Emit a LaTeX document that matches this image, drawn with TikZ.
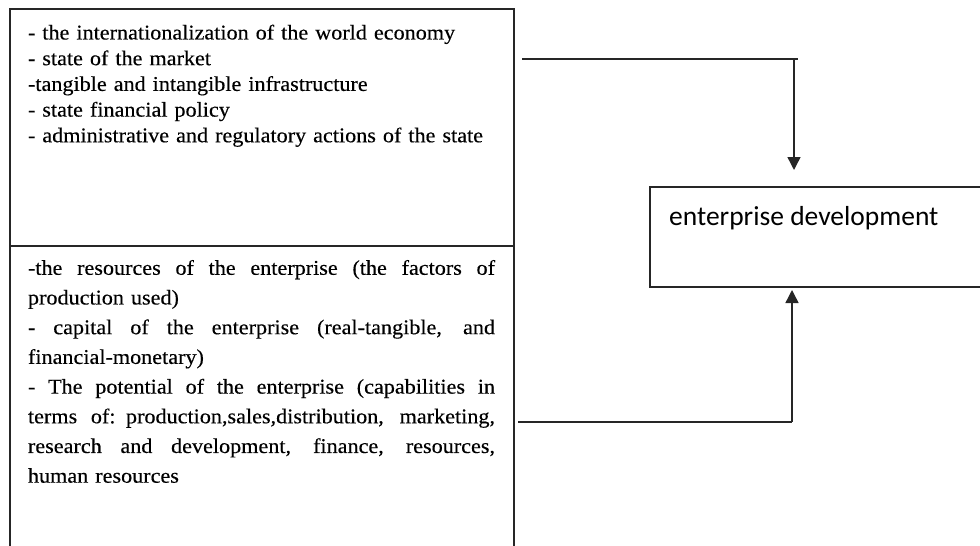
\documentclass[tikz,border=0pt]{standalone}
\usepackage{fontspec}
\usetikzlibrary{arrows.meta}
\newfontfamily\serifcam[FakeStretch=1.055,FakeBold=0.3]{Liberation Serif}
\newfontfamily\sanscal{Carlito}
\newcommand\jline[1]{\makebox[467pt][s]{\spaceskip=0.25em plus 1fil\relax #1}}
\begin{document}
\begin{tikzpicture}[x=1pt,y=-1pt,
  boxline/.style={draw=black!85, line width=1.6pt, inner sep=0pt, outer sep=0pt, anchor=north west},
  conn/.style={draw=black!85, line width=1.4pt},
  tipped/.style={-{Triangle[width=13pt,length=13pt]}},
  txt/.style={anchor=north west, inner sep=0pt, outer sep=0pt, text width=467pt, align=left}]
\useasboundingbox (0,0) rectangle (980,546);
\clip (0,0) rectangle (980,546);
% boxes
\node[boxline, minimum width=504pt, minimum height=237pt] (ext) at (10,9) {};
\node[boxline, minimum width=504pt, minimum height=330pt] (int) at (10,246) {};
\node[boxline, minimum width=360pt, minimum height=100pt] (dev) at (650,187) {};
% texts
\node[txt, font=\serifcam\fontsize{21}{25.7}\selectfont] (exttext) at (28,21.5) {\strut- the internationalization of the world economy\\
- state of the market\\
-tangible and intangible infrastructure\\
- state financial policy\\
- administrative and regulatory actions of the state};
\node[txt, font=\serifcam\fontsize{21}{29.7}\selectfont] (inttext) at (28,254) {\strut\jline{-the resources of the enterprise (the factors of}\\
production used)\\
\jline{- capital of the enterprise (real-tangible, and}\\
financial-monetary)\\
\jline{- The potential of the enterprise (capabilities in}\\
\jline{terms of: production,sales,distribution, marketing,}\\
\jline{research and development, finance, resources,}\\
human resources};
\node[anchor=base west, inner sep=0pt, font=\sanscal\fontsize{27.5}{33}\selectfont] (devtext) at (669,225) {enterprise development};
% connectors
\coordinate (a1) at (522,59);
\coordinate (a2) at (798,59);
\coordinate (a3) at (794,59);
\coordinate (a4) at (794,170);
\coordinate (b1) at (518,422);
\coordinate (b2) at (792,422);
\coordinate (b3) at (792,290);
\draw[conn] (a1) -- (a2);
\draw[conn,tipped] (a3) -- (a4);
\draw[conn] (b1) -- (b2);
\draw[conn,tipped] (b2) -- (b3);
\end{tikzpicture}
\end{document}
